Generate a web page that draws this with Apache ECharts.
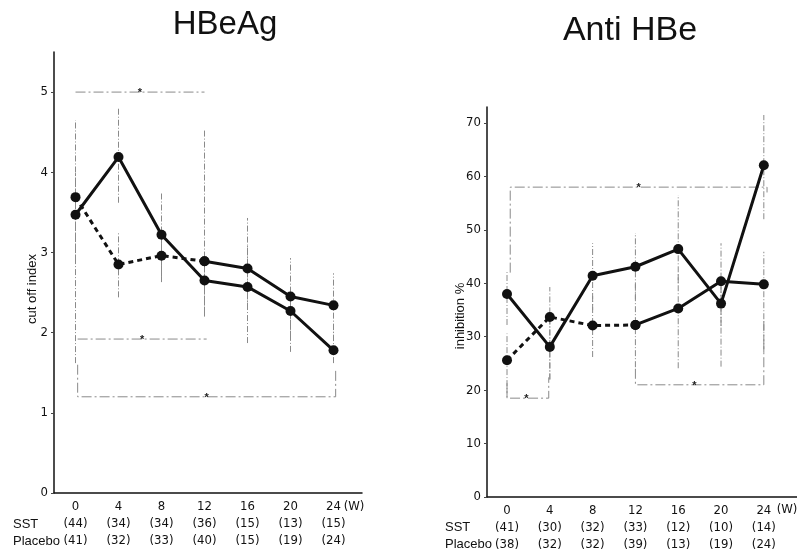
<!DOCTYPE html>
<html>
<head>
<meta charset="utf-8">
<script src="https://cdn.jsdelivr.net/npm/echarts@6/dist/echarts.min.js"></script>
<style>html,body{margin:0;padding:0;background:#fff}#c{width:797px;height:552px}</style>
</head>
<body>
<div id="c"></div>
<script>
// ---------- data ----------
const weeks = [0, 4, 8, 12, 16, 20, 24];
const weekTickLabels = ['0', '4', '8', '12', '16', '20', '24'];

// HBeAg (cut off index)
const hbeagA = [3.47, 4.19, 3.22, 2.65, 2.57, 2.27, 1.78];
const hbeagALow = [1.62, 3.62, 2.70, 2.20, 1.87, 1.76, 1.62];
const hbeagAHigh = [3.99, 4.80, 3.75, 2.90, 3.10, 2.55, 2.10];
const hbeagB = [3.69, 2.85, 2.96, 2.89, 2.80, 2.45, 2.34];
const hbeagBLow = [2.90, 2.44, 2.63, 2.25, 2.30, 1.95, 1.90];
const hbeagBHigh = [4.65, 3.24, 3.30, 4.53, 3.43, 2.93, 2.74];
const hbeagSST = ['(44)', '(34)', '(34)', '(36)', '(15)', '(13)', '(15)'];
const hbeagPlacebo = ['(41)', '(32)', '(33)', '(40)', '(15)', '(19)', '(24)'];
// brackets: [x start, x end, y, left leg end, right leg end, star x]
const hbeagBrackets = [
  [0, 12, 5.0, 5.0, 5.0, 6],
  [0.2, 12.2, 1.92, 1.92, 1.92, 6.2],
  [0.2, 24.2, 1.2, 1.6, 1.55, 12.2]
];

// Anti HBe (inhibition %)
const antiA = [38.0, 28.1, 41.4, 43.1, 46.4, 36.2, 62.1];
const antiALow = [32.2, 22.0, 35.0, 37.0, 40.0, 32.0, 52.0];
const antiAHigh = [42.1, 34.0, 47.5, 49.4, 56.5, 41.0, 71.5];
const antiB = [25.6, 33.7, 32.1, 32.2, 35.3, 40.4, 39.8];
const antiBLow = [18.7, 22.0, 26.2, 24.3, 24.1, 24.4, 27.1];
const antiBHigh = [30.6, 39.3, 38.0, 40.0, 42.0, 47.5, 45.9];
const antiSST = ['(41)', '(30)', '(32)', '(33)', '(12)', '(10)', '(14)'];
const antiPlacebo = ['(38)', '(32)', '(32)', '(39)', '(13)', '(19)', '(24)'];
const antiBrackets = [
  [0.3, 24.3, 58, 42, 57, 12.3],
  [0, 3.9, 18.5, 21.3, 22.4, 1.8],
  [12, 24, 21, 24, 33, 17.5]
];

const leftTicks = [0, 1, 2, 3, 4, 5];
const rightTicks = [0, 10, 20, 30, 40, 50, 60, 70];
const unitLabel = '(W)';

// ---------- helpers ----------
const NARROW = '"DejaVu Sans Condensed", "Liberation Sans Narrow", "Liberation Sans", sans-serif';
const SANS = '"Liberation Sans", Arial, sans-serif';
const pairs = (xs, ys) => xs.map((x, i) => [x, ys[i]]);
const errData = (low, high) => weeks.map((w, i) => [w, low[i], high[i]]);

function xAxisFor(gridIndex, min, max, sst, pla) {
  return {
    type: 'value', gridIndex, min, max,
    axisLine: { onZero: false, lineStyle: { color: '#111', width: 1.5 } },
    axisTick: { show: false },
    splitLine: { show: false },
    axisLabel: {
      customValues: weeks,
      showMinLabel: true, showMaxLabel: true,
      margin: 5,
      lineHeight: 17,
      fontFamily: NARROW, fontSize: 13, color: '#111',
      formatter: function (v) {
        const i = weeks.indexOf(v);
        return weekTickLabels[i] + '\n' + sst[i] + '\n' + pla[i];
      }
    }
  };
}
function yAxisFor(gridIndex, min, max, interval, ticks) {
  return {
    type: 'value', gridIndex, min, max, interval,
    axisLine: { show: true, onZero: false, lineStyle: { color: '#111', width: 1.5 } },
    axisTick: { show: true, length: 3, customValues: ticks, lineStyle: { color: '#444' } },
    splitLine: { show: false },
    axisLabel: { customValues: ticks, fontFamily: NARROW, fontSize: 13, color: '#111', margin: 6 }
  };
}
function lineSeries(idx, data, dashed) {
  return {
    type: 'line', xAxisIndex: idx, yAxisIndex: idx, data,
    symbol: 'circle', symbolSize: 10,
    itemStyle: { color: '#111' },
    lineStyle: { color: '#111', width: 3, type: dashed ? [5, 4] : 'solid' },
    z: 5, silent: true
  };
}
function errSeries(idx, data) {
  return {
    type: 'custom', xAxisIndex: idx, yAxisIndex: idx, data, silent: true, z: 2,
    encode: { x: 0, y: [1, 2] },
    renderItem: function (params, api) {
      const a = api.coord([api.value(0), api.value(1)]);
      const b = api.coord([api.value(0), api.value(2)]);
      return {
        type: 'line',
        shape: { x1: a[0], y1: a[1], x2: b[0], y2: b[1] },
        style: { stroke: '#8a8a8a', lineWidth: 1, lineDash: [6, 2, 1, 2] }
      };
    }
  };
}
function bracketSeries(idx, data) {
  return {
    type: 'custom', xAxisIndex: idx, yAxisIndex: idx, data, silent: true, z: 3,
    encode: { x: [0, 1, 5], y: [2, 3, 4] },
    renderItem: function (params, api) {
      const x0 = api.value(0), x1 = api.value(1), y = api.value(2);
      const p0 = api.coord([x0, api.value(3)]);
      const p1 = api.coord([x0, y]);
      const p2 = api.coord([x1, y]);
      const p3 = api.coord([x1, api.value(4)]);
      const s = api.coord([api.value(5), y]);
      return {
        type: 'group',
        children: [
          { type: 'polyline', shape: { points: [p0, p1, p2, p3] },
            style: { stroke: '#8a8a8a', lineWidth: 1, fill: null, lineDash: [10, 3, 2, 3] } },
          { type: 'text', x: s[0], y: s[1] + 1,
            style: { text: '*', fill: '#222', font: 'bold 11px ' + SANS, textAlign: 'center', textVerticalAlign: 'middle' } }
        ]
      };
    }
  };
}

const chart = echarts.init(document.getElementById('c'), null, { renderer: 'canvas' });
chart.setOption({
  animation: false,
  backgroundColor: '#fff',
  grid: [
    { left: 54, top: 52, width: 308, height: 441, outerBoundsMode: 'none' },
    { left: 487, top: 107, width: 310, height: 390, outerBoundsMode: 'none' }
  ],
  xAxis: [
    xAxisFor(0, -2, 26.65, hbeagSST, hbeagPlacebo),
    xAxisFor(1, -1.87, 27.1, antiSST, antiPlacebo)
  ],
  yAxis: [
    yAxisFor(0, 0, 5.5, 1, leftTicks),
    yAxisFor(1, 0, 73, 10, rightTicks)
  ],
  graphic: [
    { type: 'text', x: 225, y: 25, style: { text: 'HBeAg', font: '33px ' + SANS, fill: '#111', textAlign: 'center', textVerticalAlign: 'middle' } },
    { type: 'text', x: 630, y: 31, style: { text: 'Anti HBe', font: '34px ' + SANS, fill: '#111', textAlign: 'center', textVerticalAlign: 'middle' } },
    { type: 'text', x: 32, y: 289, rotation: Math.PI / 2, style: { text: 'cut off index', font: '13px ' + SANS, fill: '#111', textAlign: 'center', textVerticalAlign: 'middle' } },
    { type: 'text', x: 460, y: 316, rotation: Math.PI / 2, style: { text: 'inhibition %', font: '13px ' + SANS, fill: '#111', textAlign: 'center', textVerticalAlign: 'middle' } },
    { type: 'text', x: 354, y: 507, style: { text: unitLabel, font: '13px ' + NARROW, fill: '#111', textAlign: 'center', textVerticalAlign: 'middle' } },
    { type: 'text', x: 787, y: 510, style: { text: unitLabel, font: '13px ' + NARROW, fill: '#111', textAlign: 'center', textVerticalAlign: 'middle' } },
    { type: 'text', x: 13, y: 524, style: { text: 'SST', font: '13px ' + SANS, fill: '#111', textVerticalAlign: 'middle' } },
    { type: 'text', x: 13, y: 541, style: { text: 'Placebo', font: '13px ' + SANS, fill: '#111', textVerticalAlign: 'middle' } },
    { type: 'text', x: 445, y: 527, style: { text: 'SST', font: '13px ' + SANS, fill: '#111', textVerticalAlign: 'middle' } },
    { type: 'text', x: 445, y: 544, style: { text: 'Placebo', font: '13px ' + SANS, fill: '#111', textVerticalAlign: 'middle' } }
  ],
  series: [
    errSeries(0, errData(hbeagALow, hbeagAHigh)),
    errSeries(0, errData(hbeagBLow, hbeagBHigh)),
    bracketSeries(0, hbeagBrackets),
    lineSeries(0, pairs(weeks, hbeagA), false),
    lineSeries(0, pairs(weeks.slice(0, 4), hbeagB.slice(0, 4)), true),
    lineSeries(0, pairs(weeks.slice(3), hbeagB.slice(3)), false),

    errSeries(1, errData(antiALow, antiAHigh)),
    errSeries(1, errData(antiBLow, antiBHigh)),
    bracketSeries(1, antiBrackets),
    lineSeries(1, pairs(weeks, antiA), false),
    lineSeries(1, pairs(weeks.slice(0, 4), antiB.slice(0, 4)), true),
    lineSeries(1, pairs(weeks.slice(3), antiB.slice(3)), false)
  ]
});
</script>
</body>
</html>
